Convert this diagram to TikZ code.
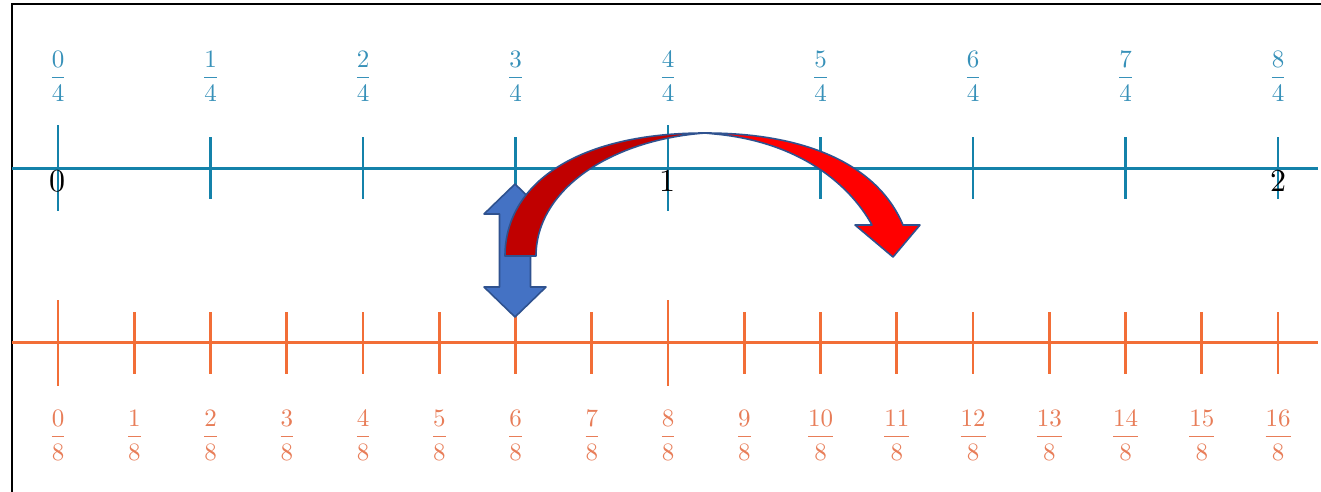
\documentclass[tikz,border=0pt]{standalone}
\definecolor{axblue}{RGB}{20,130,170}
\definecolor{labblue}{RGB}{55,145,185}
\definecolor{axorange}{RGB}{242,110,55}
\definecolor{laborange}{RGB}{232,125,88}
\definecolor{arrblue}{RGB}{68,114,196}
\definecolor{edgeblue}{RGB}{47,82,143}
\definecolor{darkred}{RGB}{192,0,0}
\definecolor{brightred}{RGB}{255,0,0}
\newcommand{\fraclabel}[2]{\scalebox{1.25}{$\displaystyle\frac{#1}{#2}$}}
\newcommand{\intlabel}[1]{\scalebox{1.6}{#1}}
\begin{document}
\begin{tikzpicture}[x=0.5pt,y=-0.5pt,
  frameline/.style={black,line width=1pt},
  blueaxis/.style={axblue,line width=1.5pt},
  bluetick/.style={axblue,line width=1.3pt},
  orangeaxis/.style={axorange,line width=1.5pt},
  orangetick/.style={axorange,line width=1.3pt},
  fraclab/.style={inner sep=0pt},
  bluelab/.style={fraclab,text=labblue},
  orangelab/.style={fraclab,text=laborange},
  intlab/.style={inner sep=0pt,text=black},
  arrowedge/.style={draw=edgeblue,line width=0.8pt,line join=round}
]
\useasboundingbox (0,0) rectangle (1321,492);
\fill[white] (0,0) rectangle (1321,492);
% frame
\coordinate (fA) at (12,492);
\coordinate (fB) at (12,4.5);
\coordinate (fC) at (1321,4.5);
\draw[frameline] (fA) -- (fB) -- (fC);

% blue number line
\coordinate (bA) at (12,168);
\coordinate (bB) at (1318,168);
\draw[blueaxis] (bA) -- (bB);
\foreach \i in {0,...,8}{
  \draw[bluetick] ({58+152.5*\i},137) -- ({58+152.5*\i},199);
  \node[bluelab] (bl\i) at ({58+152.5*\i},76) {\fraclabel{\i}{4}};
}
\draw[bluetick] (58,125) -- (58,211);
\draw[bluetick] (668,125) -- (668,211);
\node[intlab] (n0) at (57,181) {\intlabel{0}};
\node[intlab] (n1) at (667,181) {\intlabel{1}};
\node[intlab] (n2) at (1278,181) {\intlabel{2}};

% orange number line
\coordinate (oA) at (12,342);
\coordinate (oB) at (1318,342);
\draw[orangeaxis] (oA) -- (oB);
\foreach \i in {0,...,16}{
  \draw[orangetick] ({58+76.25*\i},312) -- ({58+76.25*\i},374);
  \node[orangelab] (ol\i) at ({58+76.25*\i},435) {\fraclabel{\i}{8}};
}
\draw[orangetick] (58,300) -- (58,386);
\draw[orangetick] (668,300) -- (668,386);

% blue up-down arrow
\filldraw[fill=arrblue,arrowedge]
  (515,184) -- (546,214) -- (530.5,214) -- (530.5,287) -- (546,287)
  -- (515,317) -- (484,287) -- (499.5,287) -- (499.5,214) -- (484,214) -- cycle;

% red curved arrow: back (dark) part
\coordinate (rTailL) at (505,256);
\coordinate (rTailR) at (536,256);
\coordinate (rPeak) at (705,133);
\coordinate (rPeakIn) at (715,134);
\coordinate (rOutEnd) at (903,225);
\coordinate (rInEnd) at (872,225);
\filldraw[fill=darkred,arrowedge]
  (rTailL) .. controls (505,185) and (575,133) .. (rPeak)
  .. controls (610,140) and (536,190) .. (rTailR) -- cycle;
% red curved arrow: front (bright) part with head
\filldraw[fill=brightred,arrowedge]
  (rPeak) .. controls (815,133) and (880,170) .. (rOutEnd)
  -- (920,225) -- (893,257) -- (855,225) -- (rInEnd)
  .. controls (850,185) and (800,142) .. (rPeakIn) -- cycle;
\end{tikzpicture}
\end{document}
